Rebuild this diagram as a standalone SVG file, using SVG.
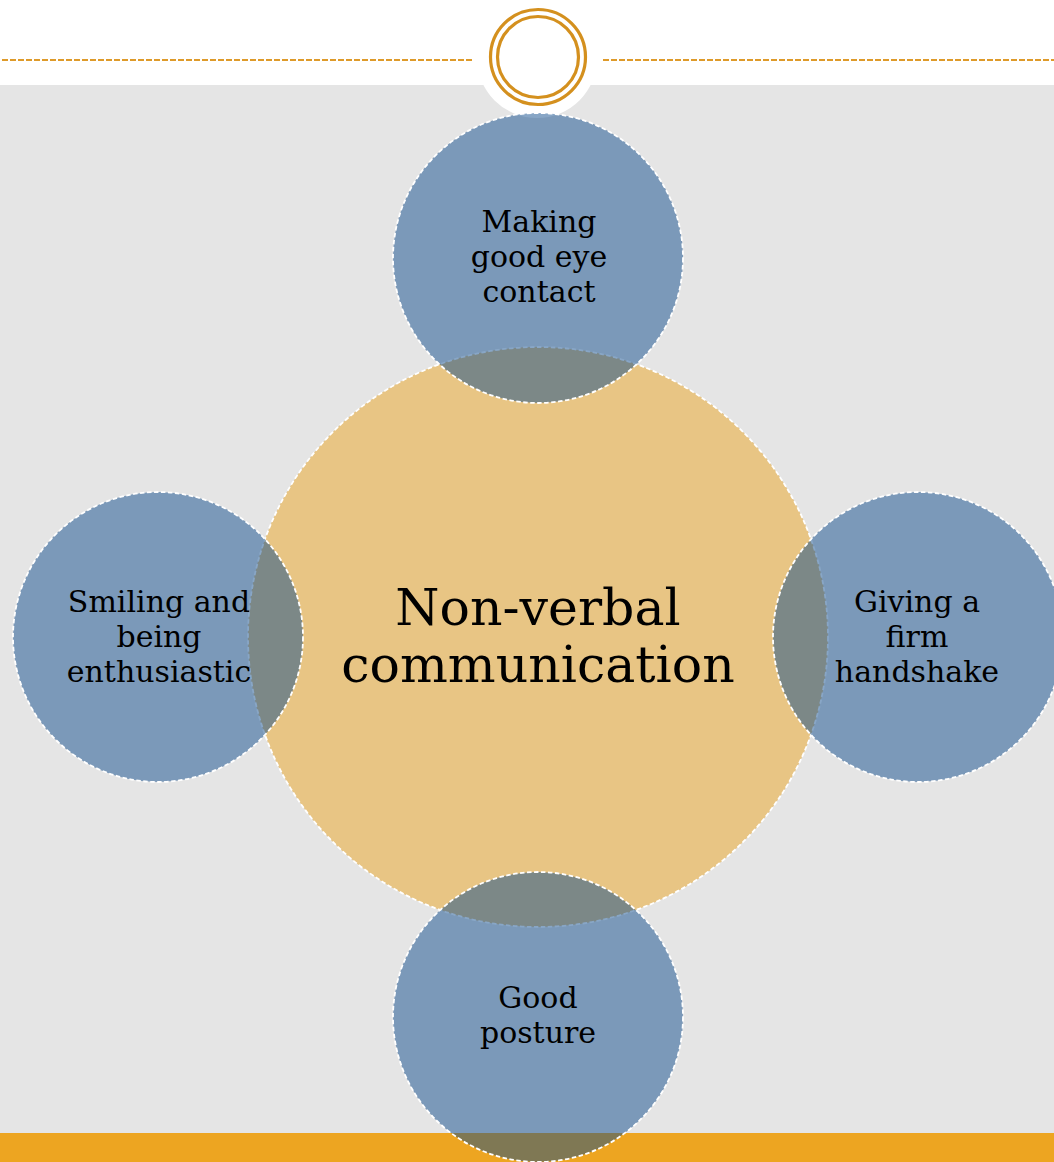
<svg xmlns="http://www.w3.org/2000/svg" width="1054" height="1162" viewBox="0 0 1054 1162">
  <style>
    .hub { fill: #e8c584; stroke: #ffffff; stroke-width: 1.8; stroke-dasharray: 4.5 2.5; }
    .spoke { fill: #0d4a8a; fill-opacity: 0.49; stroke: #ffffff; stroke-width: 1.8; stroke-dasharray: 4.5 2.5; }
    .label { font-family: "DejaVu Serif", "Liberation Serif", serif; font-size: 30px; fill: #000000; text-anchor: middle; }
    .title { font-family: "DejaVu Serif", "Liberation Serif", serif; font-size: 50.5px; fill: #000000; text-anchor: middle; }
    .rule { stroke: #de9a2a; stroke-width: 2; stroke-dasharray: 6 2; fill: none; }
    .ring { fill: none; stroke: #d4901e; stroke-width: 3.2; }
  </style>
  <defs>
    <!-- everything outside the central circle -->
    <clipPath id="outsideHub">
      <path clip-rule="evenodd" d="M0 0H1054V1162H0Z M828 637A290 290 0 1 0 248 637A290 290 0 1 0 828 637Z"/>
    </clipPath>
  </defs>

  <!-- page background -->
  <rect x="0" y="0" width="1054" height="1162" fill="#ffffff"/>
  <rect x="0" y="85" width="1054" height="1077" fill="#e5e5e5"/>

  <!-- header rule and emblem -->
  <line class="rule" x1="2" y1="60" x2="473" y2="60"/>
  <line class="rule" x1="603" y1="60" x2="1054" y2="60"/>
  <circle cx="537" cy="58" r="60" fill="#ffffff"/>
  <circle class="ring" cx="538" cy="57" r="47.5"/>
  <circle class="ring" cx="538" cy="57" r="40.5"/>

  <!-- footer bar -->
  <rect x="0" y="1133" width="1054" height="29" fill="#eda521"/>

  <g id="node-center">
    <circle class="hub" cx="538" cy="637" r="290"/>
    <text class="title" x="538" y="625">Non-verbal</text>
    <text class="title" x="538" y="682">communication</text>
  </g>

  <g id="node-top">
    <circle class="spoke" cx="538" cy="258" r="145"/>
    <text class="label" x="539" y="232">Making</text>
    <text class="label" x="539" y="267">good eye</text>
    <text class="label" x="539" y="302">contact</text>
  </g>

  <g id="node-left">
    <circle class="spoke" cx="158" cy="637" r="145"/>
    <g clip-path="url(#outsideHub)">
      <text class="label" x="159" y="612">Smiling and</text>
      <text class="label" x="159" y="647">being</text>
      <text class="label" x="159" y="682">enthusiastic</text>
    </g>
  </g>

  <g id="node-right">
    <circle class="spoke" cx="918" cy="637" r="145"/>
    <text class="label" x="917" y="612">Giving a</text>
    <text class="label" x="917" y="647">firm</text>
    <text class="label" x="917" y="682">handshake</text>
  </g>

  <g id="node-bottom">
    <circle class="spoke" cx="538" cy="1017" r="145"/>
    <text class="label" x="538" y="1008">Good</text>
    <text class="label" x="538" y="1043">posture</text>
  </g>
</svg>
